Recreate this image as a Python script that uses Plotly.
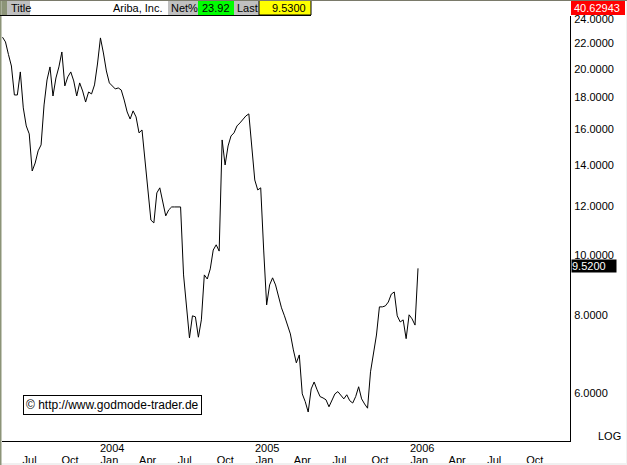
import math
import pandas as pd
import plotly.graph_objects as go

# ---------------- data ----------------
start_date = "2003-05-16"   # first weekly close
prices = [22.48, 22.09, 21.08, 20.20, 18.14, 18.14, 19.76, 17.29, 16.17, 15.70,
          13.68, 14.09, 14.74, 15.07, 17.48, 19.18, 20.13, 18.07, 19.32, 20.13,
          21.28, 18.76, 19.40, 19.76, 19.11, 18.07, 18.97, 18.41, 17.67, 18.34,
          18.21, 18.83, 20.35, 22.42, 21.20, 19.83, 18.97, 18.76, 18.55, 18.62,
          18.48, 17.80, 17.03, 16.59, 17.10, 16.72, 15.76, 15.93, 14.20, 12.66,
          11.40, 11.28, 12.61, 12.85, 12.19, 11.58, 11.84, 11.97, 11.97, 11.97,
          11.97, 9.30, 8.23, 7.36, 7.99, 7.96, 7.38, 7.87, 9.30, 9.16,
          9.51, 10.20, 10.40, 10.16, 15.35, 13.99, 15.01, 15.58, 15.76, 16.17,
          16.35, 16.59, 16.78, 16.91, 15.07, 13.23, 12.75, 12.85, 10.20, 8.32,
          8.96, 9.20, 8.96, 8.60, 8.23, 7.99, 7.72, 7.47, 7.04, 6.71,
          6.91, 5.98, 5.81, 5.59, 6.09, 6.25, 6.07, 5.92, 5.89, 5.85,
          5.70, 5.83, 5.98, 6.03, 5.94, 5.87, 5.96, 5.83, 5.78, 5.92,
          6.14, 5.87, 5.76, 5.67, 6.49, 6.99, 7.44, 8.26, 8.26, 8.29,
          8.41, 8.66, 8.73, 7.99, 7.81, 7.87, 7.34, 8.02, 7.90, 7.72,
          9.53]
dates = pd.date_range(start=start_date, periods=len(prices), freq="7D")

x_tick_dates = ["2003-07-01", "2003-10-01", "2004-01-01", "2004-04-01", "2004-07-01",
                "2004-10-01", "2005-01-01", "2005-04-01", "2005-07-01", "2005-10-01",
                "2006-01-01", "2006-04-01", "2006-07-01", "2006-10-01"]
x_tick_labels = ["Jul", "Oct", "Jan", "Apr", "Jul", "Oct", "Jan", "Apr", "Jul", "Oct",
                 "Jan", "Apr", "Jul", "Oct"]
year_dates = ["2004-01-01", "2005-01-01", "2006-01-01"]
year_labels = ["2004", "2005", "2006"]

y_tick_vals = [6, 8, 10, 12, 14, 16, 18, 20, 22, 24]
y_tick_labels = ["6.0000", "8.0000", "10.0000", "12.0000", "14.0000", "16.0000",
                 "18.0000", "20.0000", "22.0000", "24.0000"]

title_text = "Ariba, Inc."
net_pct = "23.92"
last_text = "9.5300"
last_value = 9.52
corner_value = "40.62943"
watermark = "© http://www.godmode-trader.de"

# ---------------- layout helpers ----------------
W, H = 627, 465
L, R, T, B = 2, 57, 16, 24
PW = W - L - R
PH = H - T - B


def px(x):
    return (x - L) / PW


def py(y):
    return (H - B - y) / PH


FONT = "Liberation Sans, Arial, sans-serif"

fig = go.Figure(go.Scatter(x=dates, y=prices, mode="lines",
                           line=dict(color="black", width=1), hoverinfo="skip"))

fig.update_layout(
    width=W, height=H, autosize=False,
    margin=dict(l=L, r=R, t=T, b=B, pad=0, autoexpand=False),
    paper_bgcolor="white", plot_bgcolor="white",
    showlegend=False,
    font=dict(family=FONT, size=11, color="black"),
)

fig.update_xaxes(
    type="date", automargin=False,
    range=["2003-05-14 19:00", "2007-01-13 12:00"],
    tickvals=x_tick_dates, ticktext=x_tick_labels,
    ticks="", showgrid=False, zeroline=False,
    showline=True, linecolor="black", linewidth=1,
    ticklabelposition="outside right", ticklabelstandoff=9,
    tickfont=dict(family=FONT, size=11, color="black"),
)

fig.update_yaxes(
    type="log", side="right", automargin=False,
    range=[math.log10(5.02), math.log10(24.32)],
    tickvals=y_tick_vals, ticktext=y_tick_labels,
    ticks="", showgrid=False, zeroline=False,
    showline=True, linecolor="black", linewidth=1,
    ticklabelstandoff=1,
    tickfont=dict(family=FONT, size=11, color="black"),
)

shapes = []
annotations = []


def rect(x0, y0, x1, y1, fill, line_color=None, layer="above"):
    shapes.append(dict(type="rect", xref="paper", yref="paper",
                       x0=px(x0), x1=px(x1), y0=py(y1), y1=py(y0),
                       fillcolor=fill, layer=layer,
                       line=dict(width=1 if line_color else 0,
                                 color=line_color or fill)))


def text(x, y, s, anchor="left", color="black", size=11):
    annotations.append(dict(xref="paper", yref="paper", x=px(x), y=py(y),
                            text=s, showarrow=False, xanchor=anchor,
                            yanchor="middle",
                            font=dict(family=FONT, size=size, color=color)))


# outer light strips and left border
rect(0, 463, W, H, "#f0f0f0")
rect(626, 0, W, H, "#f0f0f0")
rect(0, 0, 1.5, H, "#8c9478")

# header bar
rect(1.5, 0, 7, 15, "#8c9478")
rect(7, 0, 30, 15, "#c0c0c0")
rect(30, 0, 168, 15, "white")
rect(168, 0, 198, 15, "#c0c0c0")
rect(198, 0, 234, 15, "#00ff00")
rect(234, 0, 259, 15, "#c0c0c0")
rect(259, 0.5, 311, 15, "#ffff00", line_color="black")
rect(571, 0, 625, 15, "#ff0000")
shapes.append(dict(type="line", xref="paper", yref="paper",
                   x0=px(0), x1=px(311), y0=py(15.5), y1=py(15.5),
                   line=dict(color="black", width=1)))
shapes.append(dict(type="line", xref="paper", yref="paper",
                   x0=px(0), x1=px(W), y0=py(0.5), y1=py(0.5),
                   line=dict(color="#7a7a6a", width=1)))

text(9, 8, "Title")
text(165, 8, title_text, anchor="right")
text(169, 8, "Net%")
text(232, 8, net_pct, anchor="right")
text(235, 8, "Last")
text(308, 8, last_text, anchor="right")
text(572, 8, corner_value, color="white")

# year labels above the January ticks
for d, lab in zip(year_dates, year_labels):
    annotations.append(dict(xref="x", yref="paper", x=d, y=py(447.5), text=lab,
                            showarrow=False, xanchor="left", yanchor="middle",
                            xshift=-2,
                            font=dict(family=FONT, size=11, color="black")))

# LOG marker
text(623, 436, "LOG", anchor="right")

# last value box on the axis
annotations.append(dict(xref="paper", yref="y", x=px(571), y=math.log10(last_value),
                        text=f"{last_value:.4f}", showarrow=False,
                        xanchor="left", yanchor="middle", yshift=3,
                        bgcolor="black", borderpad=0, width=44, align="left",
                        font=dict(family=FONT, size=11, color="white")))

# watermark
annotations.append(dict(xref="paper", yref="paper", x=px(22.5), y=py(405),
                        text=watermark, showarrow=False, xanchor="left",
                        yanchor="middle", bgcolor="white", bordercolor="black",
                        borderwidth=1, borderpad=2,
                        font=dict(family=FONT, size=12, color="black")))

fig.update_layout(shapes=shapes, annotations=annotations)
fig.write_html("out.html", config={"displayModeBar": False, "staticPlot": True},
               post_script="document.body.style.margin='0';document.body.style.overflow='hidden';")
